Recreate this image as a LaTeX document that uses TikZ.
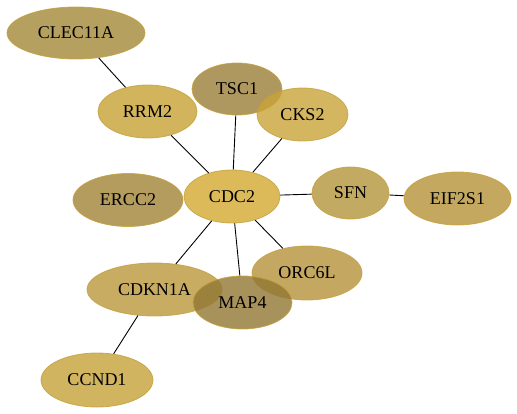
\documentclass[tikz,border=0pt]{standalone}
\usepackage{fontspec}
\setmainfont{Liberation Serif}
\usetikzlibrary{shapes.geometric}
\definecolor{cClec}{RGB}{162,136,56}
\definecolor{cRrm}{RGB}{199,161,51}
\definecolor{cTsc}{RGB}{154,126,56}
\definecolor{cCks}{RGB}{201,164,56}
\definecolor{cCdc}{RGB}{211,169,49}
\definecolor{cErcc}{RGB}{161,131,54}
\definecolor{cSfn}{RGB}{179,149,59}
\definecolor{cEif}{RGB}{181,146,56}
\definecolor{cOrc}{RGB}{181,146,59}
\definecolor{cCdkn}{RGB}{186,151,59}
\definecolor{cMap}{RGB}{146,119,51}
\definecolor{cCcnd}{RGB}{196,161,56}
\definecolor{bord}{RGB}{196,160,60}
\tikzset{
  gene/.style={ellipse, inner sep=0pt, draw=bord, line width=0.8pt,
    fill opacity=0.8, draw opacity=0.8, text opacity=1,
    font=\fontsize{18}{20}\selectfont},
  link/.style={line width=0.9pt, black}
}
\begin{document}
\begin{tikzpicture}[x=1pt,y=-1pt]
\useasboundingbox (0,0) rectangle (517,413);
\node[gene, fill=cClec, minimum width=138pt, minimum height=52pt] (clec) at (76,33) {CLEC11A};
\node[gene, fill=cRrm, minimum width=99pt, minimum height=53pt] (rrm) at (147.5,111.5) {RRM2};
\node[gene, fill=cTsc, minimum width=90pt, minimum height=52pt] (tsc) at (237,89) {TSC1};
\node[gene, fill=cCks, minimum width=91pt, minimum height=53pt] (cks) at (302.5,114.5) {CKS2};
\node[gene, fill=cErcc, minimum width=110pt, minimum height=53pt] (ercc) at (128,200) {ERCC2};
\node[gene, fill=cCdc, minimum width=96pt, minimum height=53pt] (cdc) at (232,196.5) {CDC2};
\node[gene, fill=cSfn, minimum width=77pt, minimum height=52pt] (sfn) at (350.5,193) {SFN};
\node[gene, fill=cEif, minimum width=107pt, minimum height=53pt] (eif) at (457.5,198.5) {EIF2S1};
\node[gene, fill=cOrc, minimum width=110pt, minimum height=54pt] (orc) at (307,273) {ORC6L};
\node[gene, fill=cCdkn, minimum width=135pt, minimum height=53pt] (cdkn) at (154.5,289.5) {CDKN1A};
\node[gene, fill=cMap, minimum width=99pt, minimum height=53pt] (map) at (242.5,302.5) {MAP4};
\node[gene, fill=cCcnd, minimum width=112pt, minimum height=54pt] (ccnd) at (97,380) {CCND1};
\draw[link] (clec) -- (rrm);
\draw[link] (rrm) -- (cdc);
\draw[link] (tsc) -- (cdc);
\draw[link] (cks) -- (cdc);
\draw[link] (cdc) -- (sfn);
\draw[link] (sfn) -- (eif);
\draw[link] (cdc) -- (cdkn);
\draw[link] (cdc) -- (map);
\draw[link] (cdc) -- (orc);
\draw[link] (cdkn) -- (ccnd);
\end{tikzpicture}
\end{document}
